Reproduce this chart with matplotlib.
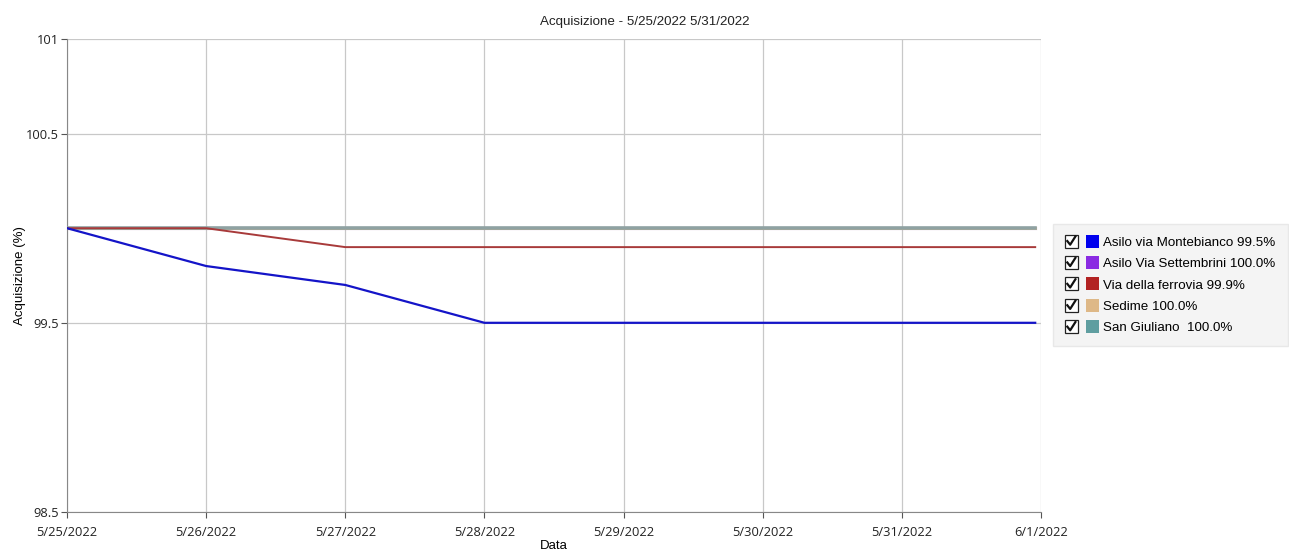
import datetime as dt
import matplotlib
matplotlib.use("Agg")
import matplotlib.pyplot as plt
import matplotlib.dates as mdates
from matplotlib.patches import Rectangle, Patch
from matplotlib.lines import Line2D
from matplotlib.legend_handler import HandlerBase

# data
dates = [dt.datetime(2022, 5, 25), dt.datetime(2022, 5, 26), dt.datetime(2022, 5, 27),
         dt.datetime(2022, 5, 28), dt.datetime(2022, 5, 29), dt.datetime(2022, 5, 30),
         dt.datetime(2022, 5, 31), dt.datetime(2022, 5, 31, 23, 0)]
montebianco = [100.0, 99.8, 99.7, 99.5, 99.5, 99.5, 99.5, 99.5]
settembrini = [100.0, 100.0, 100.0, 100.0, 100.0, 100.0, 100.0, 100.0]
ferrovia = [100.0, 100.0, 99.9, 99.9, 99.9, 99.9, 99.9, 99.9]
sedime = [100.0, 100.0, 100.0, 100.0, 100.0, 100.0, 100.0, 100.0]
san_giuliano = [100.0, 100.0, 100.0, 100.0, 100.0, 100.0, 100.0, 100.0]

labels = ["Asilo via Montebianco 99.5%", "Asilo Via Settembrini 100.0%",
          "Via della ferrovia 99.9%", "Sedime 100.0%", "San Giuliano  100.0%"]
legend_colors = ["#0000ee", "#8a2be2", "#b22222", "#deb887", "#5f9ea0"]
line_colors = ["#1414c8", "#8a2be2", "#a83a3a", "#deb887", "#8fa2a2"]
series = [montebianco, settembrini, ferrovia, sedime, san_giuliano]
widths = [1.6, 2.2, 1.4, 2.2, 2.6]


class CheckHandler(HandlerBase):
    # checkbox with tick, then the colour square
    def create_artists(self, legend, orig_handle, xdescent, ydescent,
                       width, height, fontsize, trans):
        s = height * 1.4
        y0 = -ydescent + (height - s) / 2
        x0 = -xdescent
        box = Rectangle((x0, y0), s, s, facecolor="white",
                        edgecolor="#222222", lw=0.9, transform=trans)
        tick = Line2D([x0 + 0.2 * s, x0 + 0.42 * s, x0 + 0.82 * s],
                      [y0 + 0.5 * s, y0 + 0.22 * s, y0 + 0.85 * s],
                      color="#111111", lw=1.6, transform=trans)
        sq = Rectangle((x0 + 1.6 * s, y0), s, s,
                       facecolor=orig_handle.get_facecolor(), edgecolor="none",
                       transform=trans)
        return [box, tick, sq]


fig = plt.figure(figsize=(12.89, 5.53), dpi=100)
ax = fig.add_axes([0.052, 0.0741, 0.7556, 0.8554])

order = [1, 3, 4, 2, 0]
for i in order:
    ax.plot(dates, series[i], color=line_colors[i], lw=widths[i], zorder=3)

ax.set_xlim(dt.datetime(2022, 5, 25), dt.datetime(2022, 6, 1))
ax.set_ylim(98.5, 101)
ax.set_yticks([98.5, 99.5, 100.5, 101])
ax.set_yticklabels(["98.5", "99.5", "100.5", "101"])
ax.xaxis.set_major_locator(mdates.DayLocator())
ax.set_xticks(ax.get_xticks())
ax.set_xticklabels([f"{d.month}/{d.day}/{d.year}" for d in
                    [mdates.num2date(t) for t in ax.get_xticks()]])

ax.grid(True, color="#c8c8c8", lw=0.9)
ax.set_axisbelow(True)
for s in ["top", "right"]:
    ax.spines[s].set_visible(False)
for s in ["left", "bottom"]:
    ax.spines[s].set_color("#888888")
ax.tick_params(length=4, color="#555555", labelsize=9.3, labelcolor="#222222")
ax.tick_params(axis="x", pad=6)
ax.tick_params(axis="y", pad=2)
for lab in ax.get_xticklabels() + ax.get_yticklabels():
    lab.set_family("Open Sans")

fig.text(0.5, 0.96, "Acquisizione - 5/25/2022 5/31/2022", fontsize=9.6,
         family="Liberation Sans", ha="center", va="center", color="#222222")
ax.set_ylabel("Acquisizione (%)", fontsize=9.5, family="Liberation Sans", labelpad=0)
ax.set_xlabel("Data", fontsize=9.5, family="Liberation Sans", labelpad=1)

handles = [Patch(facecolor=c) for c in legend_colors]
leg = fig.legend(handles, labels, loc="center left", bbox_to_anchor=(0.8115, 0.484),
                 handler_map={Patch: CheckHandler()},
                 handlelength=2.55, handletextpad=0.35, labelspacing=0.68,
                 prop={"family": "Liberation Sans", "size": 9.6},
                 frameon=True, fancybox=False, borderpad=0.9)
leg.get_frame().set_facecolor("#f2f2f2")
leg.get_frame().set_edgecolor("#e4e4e4")

fig.savefig("out.png", dpi=100)
